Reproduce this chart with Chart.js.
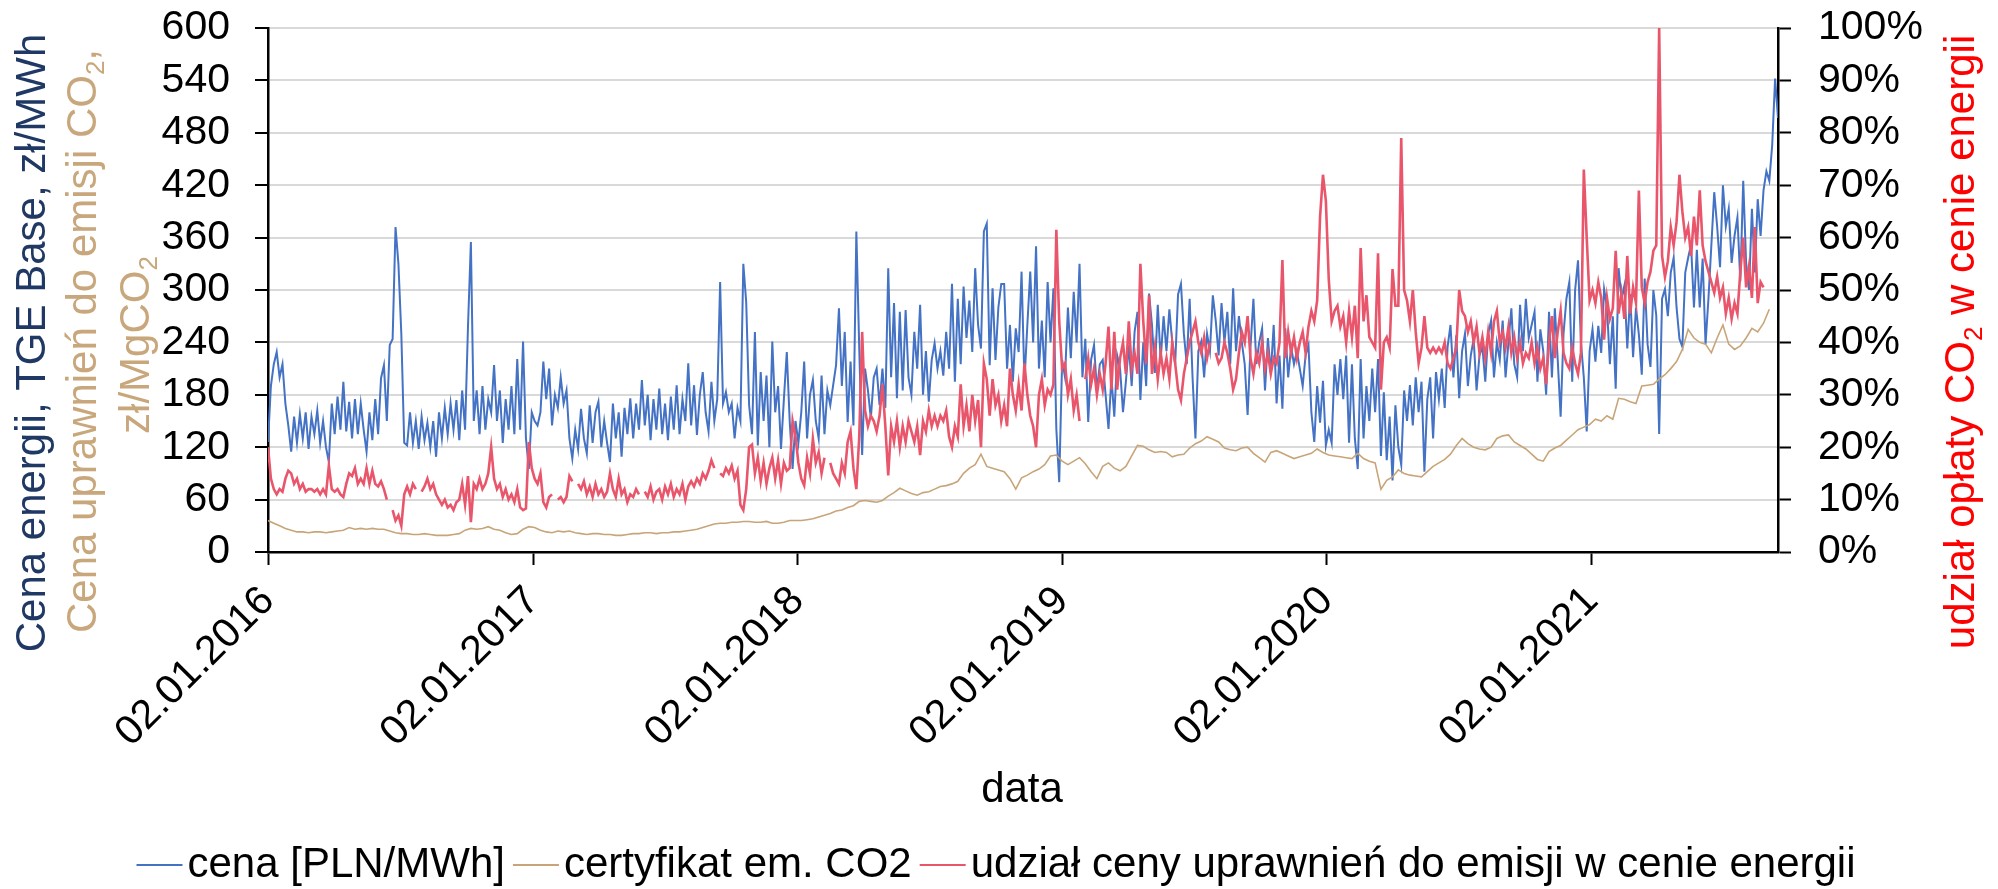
<!DOCTYPE html>
<html><head><meta charset="utf-8">
<script src="https://cdn.jsdelivr.net/npm/chart.js@4.4.1/dist/chart.umd.min.js"></script>
<style>html,body{margin:0;padding:0;background:#fff}canvas{display:block}</style>
</head><body>
<canvas id="c" width="1998" height="889"></canvas>
<script>
// ---- data (x = days since 02.01.2016) ----
const yearTickDays   = [0, 366, 731, 1096, 1461, 1827];
const yearTickLabels = ['02.01.2016','02.01.2017','02.01.2018','02.01.2019','02.01.2020','02.01.2021'];
const lastDay = 2084;
const priceStepDays = 4;   // energy price sampled every 4 days
const shareStepDays = 4;   // CO2 share sampled every 4 days
const co2StepDays = 8;     // CO2 allowance price sampled every 8 days

// cena [PLN/MWh]
const priceValues = [
// 2016
126,190,215,229,200,215,170,145,115,
155,125,158,130,160,118,155,135,162,125,150,120,
103,
170,135,178,140,195,138,172,130,175,135,170,140,115,
160,128,175,135,199,214,
150,237,244,372,330,250,125,
122,160,125,150,118,155,128,148,120,150,109,160,130,165,135,170,140,174,128,
185,140,258,355,150,
185,135,190,140,175,160,214,
150,185,125,175,140,190,135,221,140,241,130,95,160,
// 2017
150,145,160,218,175,210,145,180,165,200,
170,185,130,107,140,118,164,130,113,168,
125,160,172,120,150,125,103,170,130,160,
109,165,135,176,130,170,140,197,145,180,
128,175,140,187,135,170,128,178,140,191,
135,175,150,216,145,191,134,180,206,160,
138,195,150,175,309,170,183,160,170,130,
165,150,330,286,168,135,252,122,206,150,
202,120,241,160,190,118,175,229,150,95,
150,
// 2018
125,160,218,130,180,197,150,130,202,135,
185,168,191,214,279,190,252,149,218,145,
367,233,111,210,185,153,200,210,168,210,
165,325,200,285,176,275,185,277,200,180,
252,210,283,180,230,172,220,239,210,230,
202,252,210,307,195,290,215,304,245,288,
229,325,260,233,367,376,214,302,220,280,
307,307,210,260,195,256,229,321,195,260,
321,240,350,210,265,200,309,240,302,141,
80,220,
// 2019
200,280,222,298,240,330,200,244,149,220,
237,185,215,220,180,141,200,155,225,210,
160,195,237,190,252,275,174,240,190,296,
260,205,283,220,270,230,278,240,215,295,
307,250,215,290,200,130,230,241,200,250,
230,294,265,225,285,240,275,215,302,230,
270,240,215,157,235,290,215,240,256,185,
245,205,260,170,225,164,256,200,235,215,
230,210,190,225,237,160,126,190,148,196,
122,
// 2020
140,125,215,180,221,175,225,125,215,130,
95,221,130,190,150,210,160,221,110,183,
105,155,82,168,120,100,185,150,191,145,
200,160,195,92,175,200,130,206,175,210,
165,235,260,200,248,176,230,250,190,225,
244,185,225,235,195,250,265,200,240,220,
265,200,240,279,215,200,283,230,290,245,
260,275,195,255,230,180,275,200,279,220,
155,250,290,309,195,300,334,240,200,138,
230,
// 2021
255,218,259,228,301,280,215,270,187,325,
290,305,233,295,223,280,249,203,313,238,
212,300,271,135,290,301,270,320,337,280,
244,235,320,337,352,280,346,280,336,238,
290,351,412,373,326,420,373,393,331,362,
383,310,425,331,300,393,320,404,362,414,
436,425,466,542,497
];

// udział ceny uprawnień do emisji w cenie energii [%]
const shareValues = [
// 2016
20,14,12,11,12,11.5,14,15.5,15,13,
14,12,13,11.5,12,12,11.5,12,11,12,
11,16.5,12,11.5,12,11,10.5,13,15,14.5,
16,13,14,13,16,13,15.5,13,12.5,13.5,
12,10,null,8,6,7,5,11,12.5,11,
13,12,null,11.5,12.5,14,12,13,11,10,
9,10,8.5,9,8,9.5,10,13,9,14.5,
5.7,13,12,14,12,13,15,20,14,12,
13,10.5,12,10,11,9.5,12,8.5,8,8.3,
21,16,
// 2017
14,13,15,9.5,8.5,10.5,11,null,10,10.5,
9.5,10.5,14.5,13.5,null,13,12,13.5,11,12.5,
10.5,13,11,12,10.5,11.5,15,12,10.5,14,
11,12,9.5,11,10.5,12,11,null,11.5,10.5,
12.5,10,11.5,12,10,12.5,11,13,10.5,12,
11,13,10,12.5,13.5,12.5,14,13,15,14,
15.5,17.5,16,null,15,14.5,16,15,16.5,14,
15.5,9,8,12,20,20.5,15,18,13.5,17,
13,16,18,14,17.5,13,17,15.5,16,25,
22,
// 2018
17,14,12.7,18,15,21.6,17,19,15,18,
null,17,15,14,13,17,15,21,23,16,
12,22,42,27,24,26,25,23,26,32,
24,14.6,24,21,25,20,24,21,25,23,
21,24,18.5,25,23,27,24,26,24,26,
25,27,22,20,24,22,32,24,28,23,
30,25,29,20,36,33,26,33,28,30,
25,28,24,35,30,27,32,27,36,30,
26,24,20,30,33,28,31,30,32,61.5,
44,35,
// 2019
36,30,33,27,30,25,null,33,37,32,
35,30,34,31,36,43,31,42,31,37,
40,34,44,35,38,34,55,44,36,49,
34,39,33,38,34,37,33,40,36,31,
29,34,37,40,42,44,40,38,41,37,
40,null,38,36,37,40,38,35,31,33,
38,42,40,45,37,34,38,36,40,35,
38,34,37,36,40,55.7,37,42,38,41,
37,40,42,38,43,46,44,48,64,72,
67,
// 2020
52,44,46,47,43,45,40,46,41,47,
37,58,44,49,41,40,39,57,31,40,
41,39,54,47,47,79,50,48,44,50,
42,36,39,45,39,38,39,38,39,38,
40,36,35,37,39,50,46,45,42,44,
40,43,38,41,37,42,38,44,46,40,
42,39,43,38,41,37,40,36,38,37,
40,36,39,35,37,32,40,45,37,42,
46,38,36,35,39,36,34,38,73,60,
48,
// 2021
50,47.5,51.5,48.5,40.5,48.5,44.5,46.5,57.5,45.5,
49.5,44.5,56.5,45.5,50.5,47.5,69,50.5,47.5,51.5,
53.5,57.5,58.5,100,56.5,52.5,55.5,62,58.5,63,
72,65,60,62,56.5,64,58.5,69,58.5,55.5,
53.5,51.5,49.5,52.5,48.5,50.5,45.5,48.5,44.5,47.5,
45.5,53.5,60,50.5,54.5,48.5,62,47.5,51.5,50.5
];

// certyfikat em. CO2 [zł/MgCO2]
const co2Values = [
// 2016
36,33,30,27,25,23,23,22,23,23,
22,23,24,25,28,26,27,26,27,26,
26,24,22,21,21,20,20,21,20,19,
19,19,20,21,25,27,26,27,29,26,
25,22,20,21,26,29,
// 2017
28,25,23,22,24,23,24,22,21,20,
21,21,20,20,19,19,20,21,21,22,
22,21,22,22,23,23,24,25,26,28,
30,32,33,33,34,34,35,35,34,34,
35,33,33,34,36,36,
// 2018
36,37,38,40,42,44,47,48,51,53,
58,59,58,57,59,64,68,73,70,67,
65,68,69,72,75,76,78,81,90,96,
100,112,98,96,94,92,84,72,85,88,
92,95,100,110,111,104,
// 2019
100,104,108,101,92,84,98,102,96,93,
98,110,122,121,117,114,115,114,109,111,
112,119,124,127,132,129,126,119,117,116,
119,120,113,108,103,114,116,113,110,107,
109,111,113,118,114,
// 2020
111,110,109,108,107,113,107,104,102,72,
82,86,94,90,88,87,86,92,98,102,
106,112,122,130,124,120,118,117,120,130,
133,134,126,122,118,112,106,104,115,119,
122,128,134,140,143,146,
// 2021
152,150,156,152,176,175,172,170,190,191,
192,198,203,210,218,232,255,245,240,238,
228,245,260,238,232,236,245,256,252,262,
278
];

const seriesLabels = ['cena [PLN/MWh]', 'certyfikat em. CO2', 'udział ceny uprawnień do emisji w cenie energii'];
const seriesColors = ['#4472C4', '#C8A578', '#E9566B'];

// ---- build ----
const FAMILY = '"Liberation Sans", Arial, sans-serif';
Chart.defaults.font.family = FAMILY;
const toPts = (arr, step) => arr.map((v, i) => ({x: i * step, y: v}));

function drawRich(ctx, segs, cx, cy, rot, size, color) {
  ctx.save();
  ctx.translate(cx, cy);
  ctx.rotate(rot);
  ctx.fillStyle = color;
  ctx.textBaseline = 'middle';
  ctx.textAlign = 'left';
  const sub = Math.round(size * 0.62);
  let total = 0;
  const ws = segs.map(s => { ctx.font = (s.sub ? sub : size) + 'px ' + FAMILY; const w = ctx.measureText(s.t).width; total += w; return w; });
  let x = -total / 2;
  segs.forEach((s, k) => {
    ctx.font = (s.sub ? sub : size) + 'px ' + FAMILY;
    ctx.fillText(s.t, x, s.sub ? size * 0.3 : 0);
    x += ws[k];
  });
  ctx.restore();
}

const decorPlugin = {
  id: 'decor',
  afterDraw(chart) {
    const ctx = chart.ctx;
    const R = -Math.PI / 2;
    drawRich(ctx, [{t: 'Cena energii, TGE Base, zł/MWh'}], 33, 343, R, 42, '#203864');
    drawRich(ctx, [{t: 'Cena uprawnień do emisji CO'}, {t: '2', sub: true}, {t: ','}], 84, 341, R, 42, '#C9A77C');
    drawRich(ctx, [{t: 'zł/MgCO'}, {t: '2', sub: true}], 137, 345, R, 42, '#C9A77C');
    drawRich(ctx, [{t: 'udział opłaty CO'}, {t: '2', sub: true}, {t: ' w cenie energii'}], 1962, 342, R, 42, '#FF0000');
    drawRich(ctx, [{t: 'data'}], 1022, 790, 0, 42, '#000');
    // legend
    ctx.save();
    ctx.font = '42px ' + FAMILY;
    ctx.textBaseline = 'middle';
    const lineLen = 46, gapLT = 5, gapItem = 8;
    const widths = seriesLabels.map(t => ctx.measureText(t).width);
    let total = widths.reduce((a, b) => a + b, 0) + seriesLabels.length * (lineLen + gapLT) + gapItem * (seriesLabels.length - 1);
    let x = 996 - total / 2;
    const y = 865;
    seriesLabels.forEach((t, k) => {
      ctx.strokeStyle = seriesColors[k];
      ctx.lineWidth = 2;
      ctx.beginPath(); ctx.moveTo(x, y); ctx.lineTo(x + lineLen, y); ctx.stroke();
      x += lineLen + gapLT;
      ctx.fillStyle = '#000';
      ctx.fillText(t, x, y);
      x += widths[k] + gapItem;
    });
    ctx.restore();
  }
};

const noVPad = s => { s.paddingTop = 0; s.paddingBottom = 0; };

new Chart(document.getElementById('c'), {
  type: 'line',
  data: {
    datasets: [
      {label: seriesLabels[2], data: toPts(shareValues, shareStepDays), yAxisID: 'y2', borderColor: seriesColors[2], borderWidth: 2.6, spanGaps: false, order: 1},
      {label: seriesLabels[1], data: toPts(co2Values, co2StepDays), yAxisID: 'y', borderColor: seriesColors[1], borderWidth: 1.6, order: 2},
      {label: seriesLabels[0], data: toPts(priceValues, priceStepDays), yAxisID: 'y', borderColor: seriesColors[0], borderWidth: 2, order: 3}
    ]
  },
  options: {
    responsive: false,
    animation: false,
    devicePixelRatio: 1,
    layout: {padding: {top: 28, left: 0, right: 0, bottom: 0}},
    elements: {line: {tension: 0}, point: {radius: 0}},
    plugins: {legend: {display: false}, tooltip: {enabled: false}},
    scales: {
      x: {
        type: 'linear', min: 0, max: lastDay,
        afterBuildTicks: s => { s.ticks = yearTickDays.map(v => ({value: v})); },
        afterFit: s => { s.height = 337; s.paddingLeft = 0; s.paddingRight = 0; },
        ticks: {
          autoSkip: false, minRotation: 45, maxRotation: 45, padding: 12,
          color: '#000', font: {size: 41},
          callback: v => yearTickLabels[yearTickDays.indexOf(v)] || ''
        },
        grid: {drawOnChartArea: false, tickLength: 13, tickColor: '#000', tickWidth: 2},
        border: {color: '#000', width: 2.5}
      },
      y: {
        position: 'left', min: 0, max: 600,
        afterFit: s => { s.width = 268; noVPad(s); },
        ticks: {stepSize: 60, autoSkip: false, padding: 25, color: '#000', font: {size: 41}},
        grid: {color: '#D9D9D9', lineWidth: 2, tickColor: '#000', tickLength: 13, tickWidth: 2},
        border: {color: '#000', width: 2.5}
      },
      y2: {
        position: 'right', min: 0, max: 100,
        afterFit: s => { s.width = 220; noVPad(s); },
        ticks: {stepSize: 10, autoSkip: false, padding: 27, color: '#000', font: {size: 41}, callback: v => v + '%'},
        grid: {drawOnChartArea: false, tickColor: '#000', tickLength: 13, tickWidth: 2},
        border: {color: '#000', width: 2.5}
      }
    }
  },
  plugins: [decorPlugin]
});
</script>
</body></html>
